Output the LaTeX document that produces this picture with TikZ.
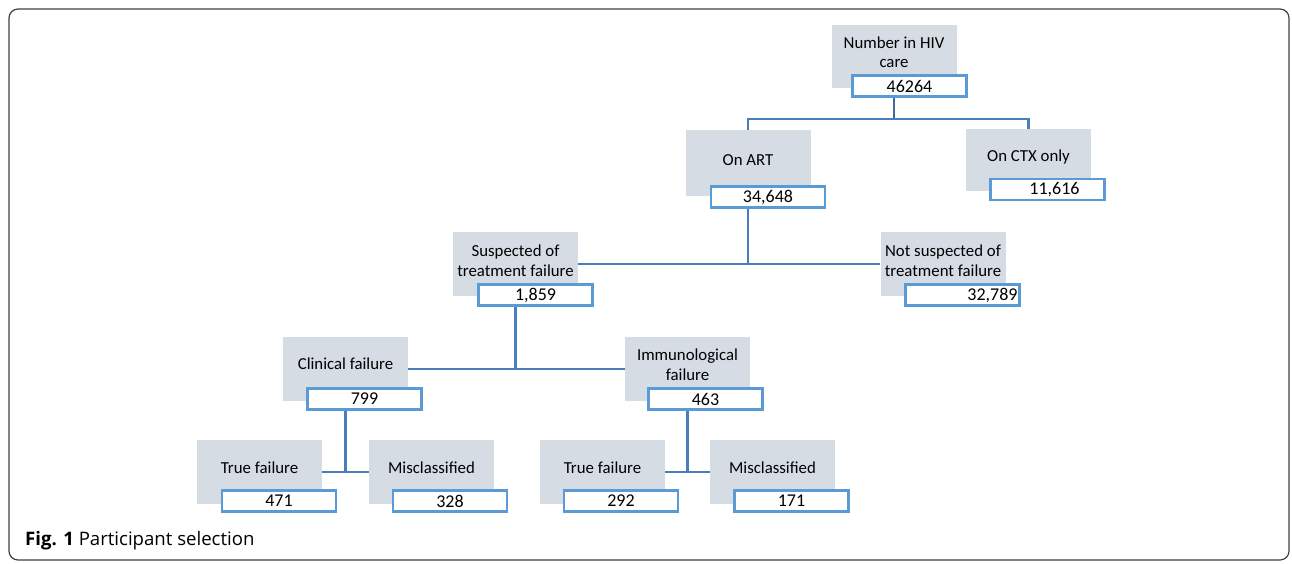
\documentclass[tikz,border=0pt]{standalone}
\usepackage{fontspec}
\setmainfont{Carlito}
\newfontfamily\capfont{Open Sans}
\usepackage{tikz}

\definecolor{boxgrey}{HTML}{D6DCE4}
\definecolor{boxblue}{HTML}{5B9BD5}
\definecolor{linkblue}{HTML}{4A7EBB}

\begin{document}
\begin{tikzpicture}[x=1pt,y=-1pt,
    grey/.style={fill=boxgrey,minimum width=125pt,minimum height=64pt,inner sep=0pt},
    num/.style={draw=boxblue,line width=2.2pt,fill=white,minimum width=114pt,minimum height=21pt,inner sep=0pt,font=\fontsize{18}{20}\selectfont},
    lbl/.style={align=center,inner sep=0pt,font=\fontsize{16.8}{19.5}\selectfont},
    link/.style={draw=linkblue,line width=2.2pt}]
    \useasboundingbox (0,0) rectangle (1292,563);
    \draw[rounded corners=9pt,line width=1.2pt,black!75] (9,9) rectangle (1289,560);
    % grey boxes
    \node[grey,minimum height=63pt] (hiv) at (894,56.5) {};
    \node[grey,minimum height=66pt] (art) at (748,163) {};
    \node[grey,minimum height=62pt] (ctx) at (1028.5,160) {};
    \node[grey] (susp) at (515.5,264) {};
    \node[grey] (notsusp) at (943,264) {};
    \node[grey] (clin) at (345.5,369) {};
    \node[grey] (immu) at (687.5,369) {};
    \node[grey] (tfa) at (259.5,472) {};
    \node[grey] (mca) at (431.5,472) {};
    \node[grey] (tfb) at (602.5,472) {};
    \node[grey] (mcb) at (772.5,472) {};
    % labels
    \node[lbl] at (894,52) {Number in HIV\\care};
    \node[lbl] at (748,160) {On ART};
    \node[lbl] at (1028.5,157) {On CTX only};
    \node[lbl] at (515.5,260.5) {Suspected of\\treatment failure};
    \node[lbl] at (943,260.5) {Not suspected of\\treatment failure};
    \node[lbl] at (345.5,364) {Clinical failure};
    \node[lbl] at (687.5,364.5) {Immunological\\failure};
    \node[lbl] at (259.5,468) {True failure};
    \node[lbl] at (431.5,468) {Misclassified};
    \node[lbl] at (602.5,468) {True failure};
    \node[lbl] at (772.5,468) {Misclassified};
    % counts
    \node[num] (hivn) at (909.5,86) {46264};
    \node[num] (artn) at (768,197) {34,648};
    \node[num] (ctxn) at (1047.5,189.5) {\hspace{14pt}11,616};
    \node[num] (suspn) at (535.5,295) {1,859};
    \node[num] (notsuspn) at (962.5,295) {\hspace*{60pt}32,789};
    \node[num] (clinn) at (364.5,399) {799};
    \node[num] (immun) at (705.5,399) {463};
    \node[num] (tfan) at (279,501) {471};
    \node[num] (mcan) at (450,501) {328};
    \node[num] (tfbn) at (621,501) {292};
    \node[num] (mcbn) at (791.5,501) {171};
    % connectors
    \draw[link,line width=2.8pt,draw=linkblue!85!black] (hiv |- hivn.south) -- ++(0,21) coordinate (top);
    \draw[link] (art.north) |- (top) -| (ctx.north);
    \draw[link] (art |- artn.south) -- (art |- susp.east);
    \draw[link] (susp.east) -- (notsusp.west);
    \draw[link] (susp |- suspn.south) -- (susp |- clin.east);
    \draw[link] (clin.east) -- (immu.west);
    \draw[link] (clin |- clinn.south) -- (clin |- tfa.east);
    \draw[link] (tfa.east) -- (mca.west);
    \draw[link] (immu |- immun.south) -- (immu |- tfb.east);
    \draw[link] (tfb.east) -- (mcb.west);
    % caption
    \node[anchor=west,inner sep=0pt,font=\capfont\fontsize{18.6}{21}\selectfont] (cap) at (25,541) {\textbf{Fig. 1} Participant selection};
\end{tikzpicture}
\end{document}
